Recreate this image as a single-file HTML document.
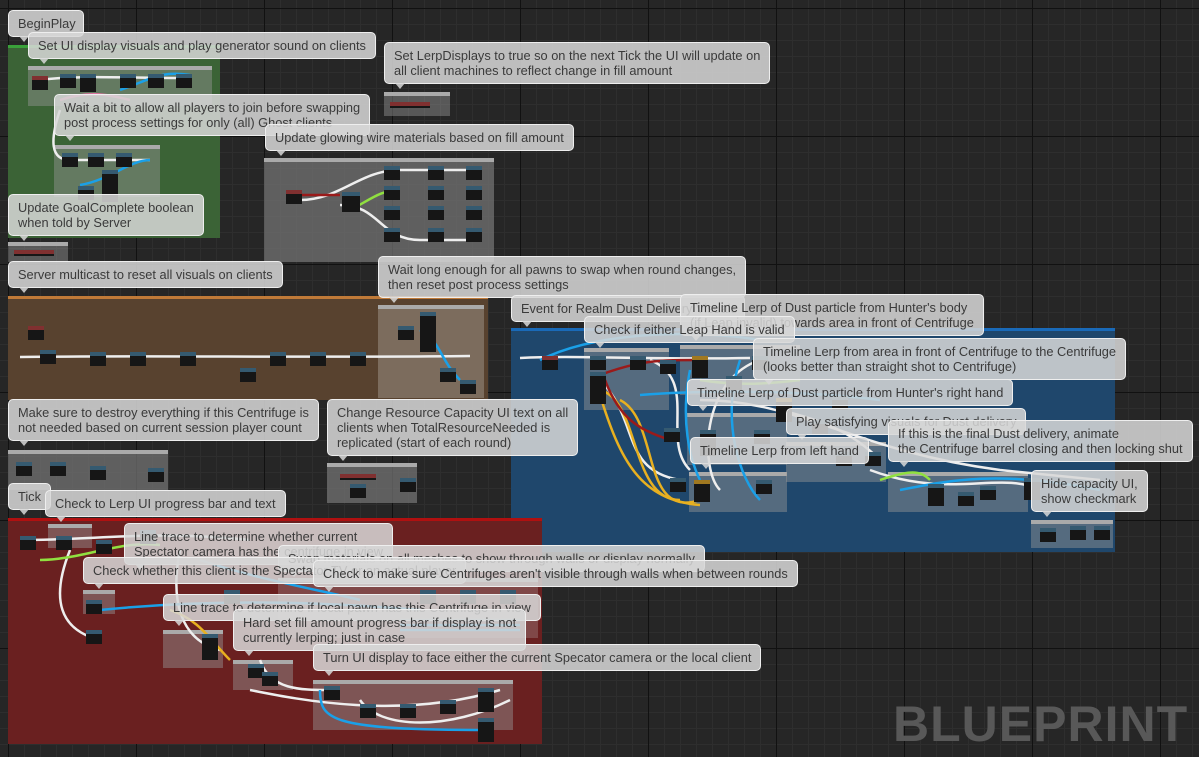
<!DOCTYPE html>
<html><head><meta charset="utf-8"><style>
*{margin:0;padding:0;box-sizing:border-box}
body{width:1199px;height:757px;overflow:hidden;position:relative;font-family:"Liberation Sans",sans-serif;
background-color:#262626;
background-image:linear-gradient(#111 1px,transparent 1px),linear-gradient(90deg,#111 1px,transparent 1px),linear-gradient(#2e2e2e 1px,transparent 1px),linear-gradient(90deg,#2e2e2e 1px,transparent 1px);
background-size:128px 128px,128px 128px,16px 16px,16px 16px;background-position:8px 8px}
.r{position:absolute}
.b{position:absolute;background:rgba(215,215,215,.86);border:1px solid #eee;border-radius:5px;color:#3a3a3a;font-size:12.8px;line-height:15px;padding:5px 9px;white-space:nowrap}
.b:after{content:"";position:absolute;left:10px;bottom:-6px;border-left:5px solid transparent;border-right:5px solid transparent;border-top:6px solid rgba(215,215,215,.86)}
.g{position:absolute;background:rgba(150,150,150,.45);border-top:4px solid #aaa}
.n{position:absolute;background:#161616;border-top:4px solid #355a70;width:16px;height:14px}
.n.t{border-top-color:#406040}.n.rd{border-top-color:#803030}.n.y{border-top-color:#a07820}
</style></head><body>
<div class="r" style="left:8px;top:45px;width:212px;height:193px;background:#3b6336;border-top:3px solid #3aa03a"></div>
<div class="r" style="left:8px;top:296px;width:480px;height:104px;background:#58422f;border-top:3px solid #c07a38"></div>
<div class="r" style="left:511px;top:328px;width:604px;height:224px;background:#1f476c;border-top:3px solid #1a6ab8"></div>
<div class="r" style="left:8px;top:518px;width:534px;height:226px;background:#6a2020;border-top:3px solid #b01010"></div>
<div class="g" style="left:28px;top:66px;width:184px;height:40px"></div>
<div class="g" style="left:54px;top:145px;width:106px;height:52px"></div>
<div class="g" style="left:384px;top:92px;width:66px;height:24px"></div>
<div class="g" style="left:264px;top:158px;width:230px;height:104px;background:rgba(120,120,120,.7)"></div>
<div class="g" style="left:8px;top:242px;width:60px;height:20px"></div>
<div class="g" style="left:378px;top:305px;width:106px;height:93px;background:rgba(160,150,140,.5)"></div>
<div class="g" style="left:8px;top:450px;width:160px;height:40px;background:rgba(120,120,120,.7)"></div>
<div class="g" style="left:327px;top:463px;width:90px;height:40px;background:rgba(120,120,120,.7)"></div>
<div class="g" style="left:584px;top:348px;width:85px;height:62px"></div>
<div class="g" style="left:680px;top:345px;width:120px;height:50px"></div>
<div class="g" style="left:687px;top:413px;width:100px;height:52px"></div>
<div class="g" style="left:689px;top:472px;width:98px;height:40px"></div>
<div class="g" style="left:786px;top:442px;width:100px;height:40px"></div>
<div class="g" style="left:888px;top:472px;width:140px;height:40px"></div>
<div class="g" style="left:1031px;top:520px;width:82px;height:28px"></div>
<div class="g" style="left:48px;top:524px;width:44px;height:24px"></div>
<div class="g" style="left:83px;top:590px;width:32px;height:24px"></div>
<div class="g" style="left:163px;top:630px;width:60px;height:38px"></div>
<div class="g" style="left:233px;top:660px;width:60px;height:30px"></div>
<div class="g" style="left:313px;top:680px;width:200px;height:50px"></div>
<div class="g" style="left:278px;top:578px;width:260px;height:60px;background:rgba(170,150,150,.35)"></div>
<svg class="r" style="left:0;top:0" width="1199" height="757" fill="none" stroke-width="2.5">
<g stroke="#eee">
<path d="M38 80 C80 75 120 78 190 78"/><path d="M60 110 C50 140 50 160 70 160 L150 160"/>
<path d="M300 200 C340 200 360 170 400 170 L470 170"/><path d="M340 205 C380 205 380 240 420 240 L470 240"/>
<path d="M20 357 C150 355 300 358 470 356"/><path d="M520 358 C580 355 640 360 750 358"/>
<path d="M600 380 C640 420 620 470 680 480"/><path d="M700 400 C800 400 850 450 1000 470 L1100 480"/>
<path d="M650 360 C700 380 660 440 690 470"/><path d="M780 410 C820 420 850 430 880 460"/>
<path d="M760 360 C700 380 700 470 720 490"/><path d="M870 470 C950 500 1000 470 1040 490"/>
<path d="M20 540 C100 540 150 530 250 540"/><path d="M70 550 C50 600 60 630 100 640"/>
<path d="M180 550 C170 600 180 640 220 650"/><path d="M260 660 C270 690 300 690 330 690"/>
<path d="M250 690 C300 700 400 720 500 690"/><path d="M360 700 C380 730 450 730 510 700"/>
</g>
<g stroke="#1aa0e8">
<path d="M120 90 C150 80 160 70 190 75"/><path d="M80 185 C110 180 130 160 150 160"/>
<path d="M420 330 C440 340 440 360 460 380"/><path d="M540 360 C600 330 700 330 760 340"/>
<path d="M640 395 C700 390 800 390 880 400"/><path d="M900 490 C950 480 1000 470 1100 490"/>
<path d="M690 370 C680 420 690 460 700 480"/><path d="M740 360 C720 420 740 480 760 500"/>
<path d="M100 610 C200 600 300 600 420 610"/><path d="M320 690 C320 720 330 730 490 730"/>
<path d="M400 620 L520 620 M400 625 L520 625 M400 630 L520 630"/>
<path d="M200 560 C260 580 320 590 360 600"/>
</g>
<g stroke="#e8b020"><path d="M600 390 C640 400 630 500 680 500"/><path d="M620 400 C660 420 640 520 700 500"/><path d="M170 610 C200 620 210 640 230 660"/><path d="M600 395 C620 460 640 500 700 505"/></g>
<g stroke="#9a1a1a"><path d="M600 375 C640 360 660 360 700 360"/><path d="M300 195 L340 195"/><path d="M605 380 C620 420 640 430 670 440"/></g>
<g stroke="#90e040"><path d="M350 210 C370 200 380 190 400 190"/><path d="M700 380 C730 385 760 385 800 380"/><path d="M40 560 C80 560 120 540 160 545"/><path d="M880 480 C910 470 920 470 930 480"/></g>
<path d="M60 100 C90 90 110 95 130 100" stroke="#e070a0"/>
</svg>
<div class="n rd" style="left:32px;top:76px"></div><div class="n" style="left:60px;top:74px"></div><div class="n" style="left:80px;top:74px;height:18px"></div><div class="n" style="left:120px;top:74px"></div><div class="n" style="left:148px;top:74px"></div><div class="n" style="left:176px;top:74px"></div>
<div class="n" style="left:62px;top:153px"></div><div class="n" style="left:88px;top:153px"></div><div class="n" style="left:116px;top:153px"></div><div class="n" style="left:102px;top:170px;height:32px"></div><div class="n" style="left:78px;top:186px"></div>
<div class="n rd" style="left:390px;top:102px;width:40px;height:6px"></div>
<div class="n rd" style="left:286px;top:190px"></div><div class="n" style="left:342px;top:192px;width:18px;height:20px"></div>
<div class="n" style="left:384px;top:166px"></div><div class="n" style="left:384px;top:186px"></div><div class="n" style="left:384px;top:206px"></div><div class="n" style="left:384px;top:228px"></div>
<div class="n" style="left:428px;top:166px"></div><div class="n" style="left:428px;top:186px"></div><div class="n" style="left:428px;top:206px"></div><div class="n" style="left:428px;top:228px"></div>
<div class="n" style="left:466px;top:166px"></div><div class="n" style="left:466px;top:186px"></div><div class="n" style="left:466px;top:206px"></div><div class="n" style="left:466px;top:228px"></div>
<div class="n rd" style="left:14px;top:250px;width:40px;height:6px"></div>
<div class="n rd" style="left:28px;top:326px"></div><div class="n" style="left:40px;top:350px"></div><div class="n" style="left:90px;top:352px"></div><div class="n" style="left:130px;top:352px"></div><div class="n" style="left:180px;top:352px"></div><div class="n" style="left:240px;top:368px"></div><div class="n" style="left:270px;top:352px"></div><div class="n" style="left:310px;top:352px"></div><div class="n" style="left:350px;top:352px"></div>
<div class="n" style="left:398px;top:326px"></div><div class="n" style="left:420px;top:312px;height:40px"></div><div class="n" style="left:440px;top:368px"></div><div class="n" style="left:460px;top:380px"></div>
<div class="n rd" style="left:542px;top:356px"></div><div class="n" style="left:590px;top:356px"></div><div class="n" style="left:590px;top:372px;height:32px"></div><div class="n" style="left:630px;top:356px"></div><div class="n" style="left:660px;top:360px"></div>
<div class="n y" style="left:692px;top:356px;height:22px"></div><div class="n" style="left:726px;top:376px"></div><div class="n" style="left:752px;top:356px"></div>
<div class="n y" style="left:776px;top:398px;height:24px"></div><div class="n" style="left:832px;top:396px"></div><div class="n" style="left:812px;top:420px"></div>
<div class="n" style="left:664px;top:428px"></div><div class="n" style="left:700px;top:430px;height:26px"></div><div class="n" style="left:754px;top:430px"></div>
<div class="n" style="left:670px;top:478px"></div><div class="n y" style="left:694px;top:480px;height:22px"></div><div class="n" style="left:756px;top:480px"></div>
<div class="n" style="left:836px;top:452px"></div><div class="n" style="left:865px;top:452px"></div>
<div class="n" style="left:928px;top:484px;height:22px"></div><div class="n" style="left:958px;top:492px"></div><div class="n" style="left:980px;top:486px"></div><div class="n" style="left:1024px;top:478px;height:22px"></div>
<div class="n" style="left:1040px;top:528px"></div><div class="n" style="left:1070px;top:526px"></div><div class="n" style="left:1094px;top:526px"></div>
<div class="n" style="left:16px;top:462px"></div><div class="n" style="left:50px;top:462px"></div><div class="n" style="left:90px;top:466px"></div><div class="n" style="left:148px;top:468px"></div>
<div class="n rd" style="left:340px;top:474px;width:36px;height:6px"></div><div class="n" style="left:350px;top:484px"></div><div class="n" style="left:400px;top:478px"></div>
<div class="n" style="left:20px;top:536px"></div><div class="n" style="left:56px;top:536px"></div><div class="n" style="left:96px;top:540px"></div><div class="n" style="left:140px;top:530px"></div>
<div class="n" style="left:86px;top:600px"></div><div class="n" style="left:86px;top:630px"></div><div class="n" style="left:202px;top:634px;height:26px"></div><div class="n" style="left:224px;top:590px"></div>
<div class="n" style="left:248px;top:664px"></div><div class="n" style="left:262px;top:672px"></div>
<div class="n" style="left:324px;top:686px"></div><div class="n" style="left:360px;top:704px"></div><div class="n" style="left:400px;top:704px"></div><div class="n" style="left:440px;top:700px"></div><div class="n" style="left:478px;top:688px;height:24px"></div><div class="n" style="left:478px;top:718px;height:24px"></div>
<div class="n" style="left:420px;top:590px"></div><div class="n" style="left:460px;top:590px"></div><div class="n" style="left:500px;top:590px"></div>
<div class="b" style="left:8px;top:10px;width:76px">BeginPlay</div>
<div class="b" style="left:28px;top:32px">Set UI display visuals and play generator sound on clients</div>
<div class="b" style="left:384px;top:42px">Set LerpDisplays to true so on the next Tick the UI will update on<br>all client machines to reflect change in fill amount</div>
<div class="b" style="left:54px;top:94px">Wait a bit to allow all players to join before swapping<br>post process settings for only (all) Ghost clients</div>
<div class="b" style="left:265px;top:124px">Update glowing wire materials based on fill amount</div>
<div class="b" style="left:8px;top:194px">Update GoalComplete boolean<br>when told by Server</div>
<div class="b" style="left:8px;top:261px">Server multicast to reset all visuals on clients</div>
<div class="b" style="left:378px;top:256px">Wait long enough for all pawns to swap when round changes,<br>then reset post process settings</div>
<div class="b" style="left:511px;top:295px;width:234px">Event for Realm Dust Delivery Visuals</div>
<div class="b" style="left:680px;top:294px">Timeline Lerp of Dust particle from Hunter's body<br>(if Leap invalid) towards area in front of Centrifuge</div>
<div class="b" style="left:584px;top:316px">Check if either Leap Hand is valid</div>
<div class="b" style="left:753px;top:338px">Timeline Lerp from area in front of Centrifuge to the Centrifuge<br>(looks better than straight shot to Centrifuge)</div>
<div class="b" style="left:687px;top:379px">Timeline Lerp of Dust particle from Hunter's right hand</div>
<div class="b" style="left:786px;top:408px">Play satisfying visuals for Dust delivery</div>
<div class="b" style="left:888px;top:420px">If this is the final Dust delivery, animate<br>the Centrifuge barrel closing and then locking shut</div>
<div class="b" style="left:690px;top:437px">Timeline Lerp from left hand</div>
<div class="b" style="left:1031px;top:470px">Hide capacity UI,<br>show checkmark</div>
<div class="b" style="left:8px;top:399px">Make sure to destroy everything if this Centrifuge is<br>not needed based on current session player count</div>
<div class="b" style="left:327px;top:399px">Change Resource Capacity UI text on all<br>clients when TotalResourceNeeded is<br>replicated (start of each round)</div>
<div class="b" style="left:8px;top:483px">Tick</div>
<div class="b" style="left:45px;top:490px">Check to Lerp UI progress bar and text</div>
<div class="b" style="left:124px;top:523px">Line trace to determine whether current<br>Spectator camera has the centrifuge in view</div>
<div class="b" style="left:278px;top:545px">Swap materials on all meshes to show through walls or display normally</div>
<div class="b" style="left:83px;top:557px">Check whether this client is the Spectator TV or an actual player</div>
<div class="b" style="left:313px;top:560px">Check to make sure Centrifuges aren't visible through walls when between rounds</div>
<div class="b" style="left:163px;top:594px">Line trace to determine if local pawn has this Centrifuge in view</div>
<div class="b" style="left:233px;top:609px">Hard set fill amount progress bar if display is not<br>currently lerping; just in case</div>
<div class="b" style="left:313px;top:644px">Turn UI display to face either the current Specator camera or the local client</div>
<div class="r" style="left:893px;top:694px;font-size:50px;font-weight:bold;color:#585858;letter-spacing:1px;line-height:60px">BLUEPRINT</div>
</body></html>
